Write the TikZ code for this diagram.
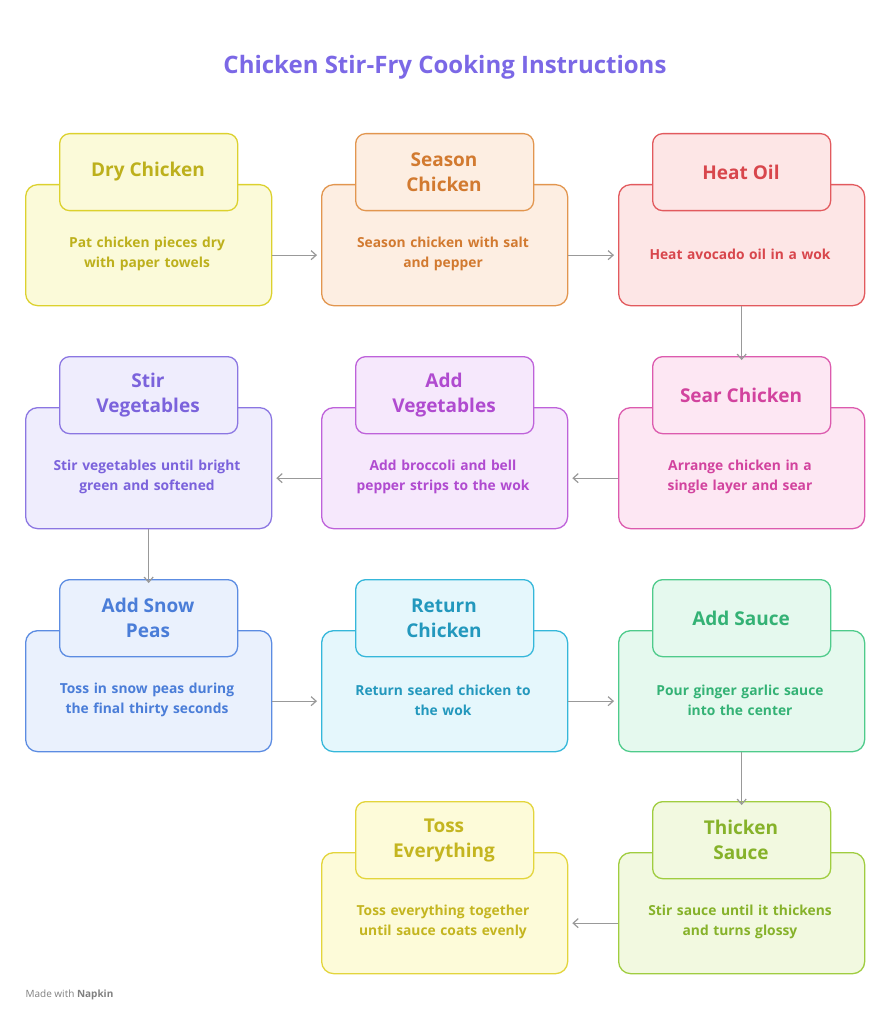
\documentclass[tikz,border=0pt]{standalone}
\usepackage{fontspec}
\setmainfont{Open Sans}
\usetikzlibrary{arrows.meta}
\begin{document}
\begin{tikzpicture}[x=1pt,y=-1pt,
  arr/.style={draw=gray!80,line width=1.2pt,-{Straight Barb[length=5pt,width=9pt]}},
  txt/.style={font=\bfseries\fontsize{13.8}{20}\selectfont,align=center,text width=240pt},
  ttl/.style={font=\bfseries\fontsize{19}{25}\selectfont,align=center}]
\useasboundingbox (0,0) rectangle (890,1024);
\definecolor{tC}{HTML}{7B68E6}
\node[font=\bfseries\fontsize{24}{28}\selectfont,text=tC] (title) at (445,67) {Chicken Stir-Fry Cooking Instructions};
\newcommand\card[8]{%
  \node[draw=#4,fill=#5,line width=1.3pt,rounded corners=12pt,minimum width=246pt,minimum height=121pt,anchor=north west,inner sep=0pt] (#1) at (#2,#3) {};
  \node[draw=#4,fill=#5,line width=1.3pt,rounded corners=10pt,minimum width=178pt,minimum height=77pt,anchor=north west,inner sep=0pt] (#1t) at (#2+34,#3-51) {};
  \node[ttl,text=#6] at (#2+123,#3-12) {#7};
  \node[txt,text=#6] at (#2+122,#3+70) {#8};}
\definecolor{yS}{HTML}{DCD12E}\definecolor{yF}{HTML}{FBFAD9}\definecolor{yT}{HTML}{BDB01C}
\definecolor{oS}{HTML}{E2964F}\definecolor{oF}{HTML}{FDEEE2}\definecolor{oT}{HTML}{D27A30}
\definecolor{rS}{HTML}{E25A5E}\definecolor{rF}{HTML}{FDE6E6}\definecolor{rT}{HTML}{D8464C}
\definecolor{pS}{HTML}{DC5BAE}\definecolor{pF}{HTML}{FDE7F3}\definecolor{pT}{HTML}{D2439E}
\definecolor{mS}{HTML}{BE62DA}\definecolor{mF}{HTML}{F6E8FC}\definecolor{mT}{HTML}{B04BD0}
\definecolor{vS}{HTML}{8B76E2}\definecolor{vF}{HTML}{EFEDFD}\definecolor{vT}{HTML}{7B63DC}
\definecolor{bS}{HTML}{5C8CE2}\definecolor{bF}{HTML}{EAF1FD}\definecolor{bT}{HTML}{4A7DD8}
\definecolor{cS}{HTML}{35B7DA}\definecolor{cF}{HTML}{E5F7FC}\definecolor{cT}{HTML}{2398BD}
\definecolor{gS}{HTML}{4FCB8B}\definecolor{gF}{HTML}{E5F9EE}\definecolor{gT}{HTML}{34B275}
\definecolor{lS}{HTML}{A0CD40}\definecolor{lF}{HTML}{F2F9E0}\definecolor{lT}{HTML}{86B22A}
\definecolor{zS}{HTML}{E3D53C}\definecolor{zF}{HTML}{FDFBD9}\definecolor{zT}{HTML}{C4B520}
\card{a}{25}{184}{yS}{yF}{yT}{Dry Chicken}{Pat chicken pieces dry\\with paper towels}
\card{b}{321}{184}{oS}{oF}{oT}{Season\\Chicken}{Season chicken with salt\\and pepper}
\card{c}{618}{184}{rS}{rF}{rT}{Heat Oil}{Heat avocado oil in a wok}
\card{d}{618}{407}{pS}{pF}{pT}{Sear Chicken}{Arrange chicken in a\\single layer and sear}
\card{e}{321}{407}{mS}{mF}{mT}{Add\\Vegetables}{Add broccoli and bell\\pepper strips to the wok}
\card{f}{25}{407}{vS}{vF}{vT}{Stir\\Vegetables}{Stir vegetables until bright\\green and softened}
\card{g}{25}{630}{bS}{bF}{bT}{Add Snow\\Peas}{Toss in snow peas during\\the final thirty seconds}
\card{h}{321}{630}{cS}{cF}{cT}{Return\\Chicken}{Return seared chicken to\\the wok}
\card{i}{618}{630}{gS}{gF}{gT}{Add Sauce}{Pour ginger garlic sauce\\into the center}
\card{j}{618}{852}{lS}{lF}{lT}{Thicken\\Sauce}{Stir sauce until it thickens\\and turns glossy}
\card{k}{321}{852}{zS}{zF}{zT}{Toss\\Everything}{Toss everything together\\until sauce coats evenly}
\draw[arr] ([yshift=-10pt]a.east) -- ([xshift=-4pt,yshift=-10pt]b.west);
\draw[arr] ([yshift=-10pt]b.east) -- ([xshift=-4pt,yshift=-10pt]c.west);
\draw[arr] (c.south) -- ([yshift=-4pt]dt.north);
\draw[arr] ([yshift=-10pt]d.west) -- ([xshift=4pt,yshift=-10pt]e.east);
\draw[arr] ([yshift=-10pt]e.west) -- ([xshift=4pt,yshift=-10pt]f.east);
\draw[arr] (f.south) -- ([yshift=-4pt]gt.north);
\draw[arr] ([yshift=-10pt]g.east) -- ([xshift=-4pt,yshift=-10pt]h.west);
\draw[arr] ([yshift=-10pt]h.east) -- ([xshift=-4pt,yshift=-10pt]i.west);
\draw[arr] (i.south) -- ([yshift=-4pt]jt.north);
\draw[arr] ([yshift=-10pt]j.west) -- ([xshift=4pt,yshift=-10pt]k.east);
\node[anchor=west,font=\fontsize{10}{12}\selectfont,text=gray] (m) at (22,995) {Made with \textbf{Napkin}};
\end{tikzpicture}
\end{document}
